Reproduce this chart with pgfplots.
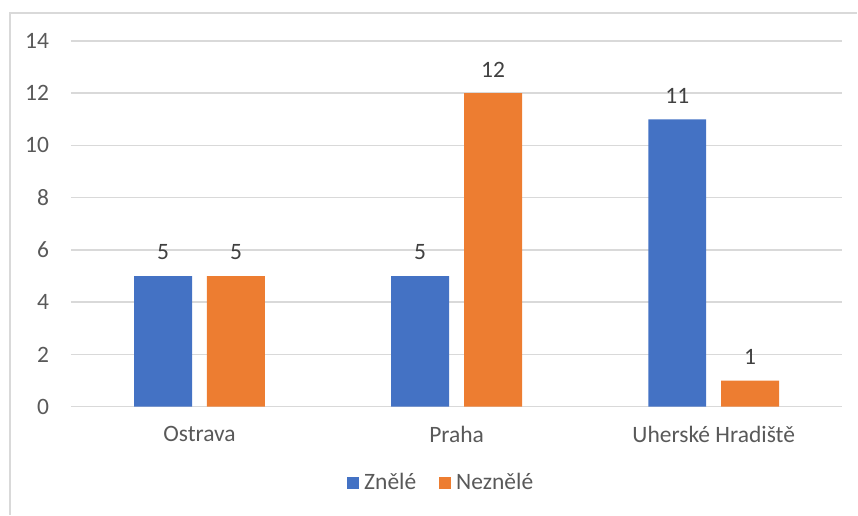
\documentclass[border=0pt]{standalone}
\usepackage{fontspec}
\setmainfont{Carlito}
\usepackage{pgfplots}
\pgfplotsset{compat=1.18}
\definecolor{cblue}{HTML}{4472C4}
\definecolor{corange}{HTML}{ED7D31}
\definecolor{cgrid}{HTML}{D9D9D9}
\definecolor{ctext}{HTML}{595959}
\definecolor{clabel}{HTML}{404040}
\begin{document}
\fontsize{23.5bp}{28bp}\selectfont
\begin{tikzpicture}
\path (0,0) rectangle (858bp,515bp);
\draw[cgrid, line width=1.5bp] (10bp,0) -- (10bp,502bp) -- (858bp,502bp);
\begin{axis}[
  at={(71bp,108bp)}, anchor=south west,
  width=772bp, height=366bp, scale only axis,
  ymin=0, ymax=14, xmin=-0.5, xmax=2.5,
  ytick={0,2,...,14},
  xtick={0,1,2},
  xticklabels={Ostrava,Praha,Uherské Hradiště},
  /pgf/number format/assume math mode=true,
  axis line style={draw=none},
  major tick length=0pt,
  ymajorgrids, grid style={cgrid, line width=1.5bp},
  ticklabel style={text=ctext, font=\fontsize{23.5bp}{28bp}\selectfont},
  yticklabel style={xshift=-14bp},
  xticklabel style={yshift=-12bp},
  ybar=15bp, bar width=58bp,
  nodes near coords,
  every node near coord/.append style={text=clabel, font=\fontsize{23.5bp}{28bp}\selectfont, yshift=8bp},
  legend columns=2,
  legend style={at={(0.482,-0.21)}, anchor=center, draw=none, fill=none,
    nodes={font=\fontsize{23.5bp}{28bp}\selectfont, text=ctext, inner xsep=5bp},
    /tikz/every even column/.append style={column sep=18bp}},
  legend image code/.code={\fill[#1] (0bp,-6bp) rectangle (12bp,6bp);},
]
\addplot[fill=cblue, draw=none] coordinates {(0,5) (1,5) (2,11)};
\addplot[fill=corange, draw=none] coordinates {(0,5) (1,12) (2,1)};
\legend{Znělé, Neznělé}
\end{axis}
\end{tikzpicture}
\end{document}
